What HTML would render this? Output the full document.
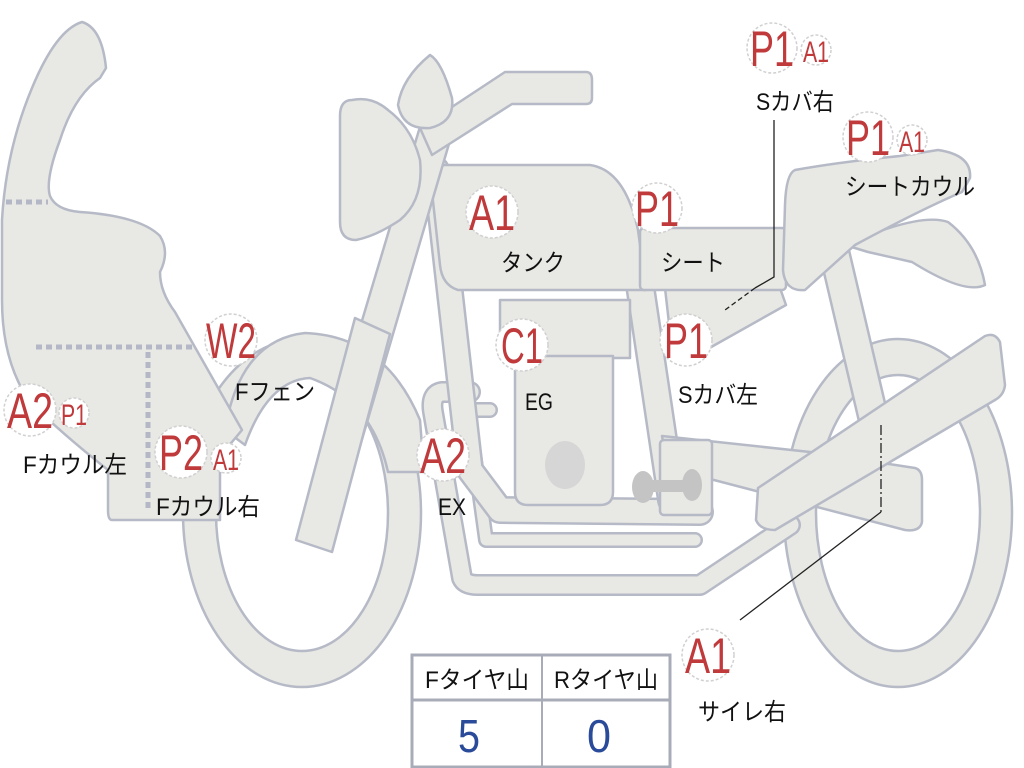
<!DOCTYPE html>
<html><head><meta charset="utf-8"><style>
html,body{margin:0;padding:0;background:#fff;}
svg{display:block;}
.f{fill:#e8e8e4;stroke:#b6bac6;stroke-width:2.5;stroke-linejoin:round;}
.t{font-family:"Liberation Sans","Noto Sans CJK JP",sans-serif;}
.lbl{font-family:"Liberation Sans","Noto Sans CJK JP",sans-serif;font-size:24px;fill:#111;}
.r{fill:#c0393b;font-family:"Liberation Sans",sans-serif;}
.c{fill:#fff;stroke:#d0d0d0;stroke-width:1.5;stroke-dasharray:3 2;}
</style></head><body>
<svg width="1024" height="768" viewBox="0 0 1024 768" xmlns="http://www.w3.org/2000/svg">
<!-- wheels -->
<ellipse cx="302" cy="513" rx="119" ry="174" class="f"/>
<ellipse cx="302" cy="513" rx="86" ry="138" fill="#fff" stroke="#b6bac6" stroke-width="2.5"/>
<ellipse cx="898" cy="513" rx="114" ry="174" class="f"/>
<ellipse cx="898" cy="513" rx="82" ry="138" fill="#fff" stroke="#b6bac6" stroke-width="2.5"/>

<!-- exhaust / frame loops -->
<g fill="none" stroke-linejoin="round" stroke-linecap="round">
<path d="M470,392 L442,392 Q430,394 433,412 L462,578 Q465,585 478,585 L700,585 L790,525" stroke="#b6bac6" stroke-width="22"/>
<path d="M470,392 L442,392 Q430,394 433,412 L462,578 Q465,585 478,585 L700,585 L790,525" stroke="#e8e8e4" stroke-width="17"/>
<path d="M490,410 L468,410 L486,540 L695,540" stroke="#b6bac6" stroke-width="16"/>
<path d="M490,410 L468,410 L486,540 L695,540" stroke="#e8e8e4" stroke-width="11"/>
<path d="M436,170 L470,470 L500,510 L700,512" stroke="#b6bac6" stroke-width="28"/>
<path d="M436,170 L470,470 L500,510 L700,512" stroke="#e8e8e4" stroke-width="23"/>
<path d="M640,285 L672,500" stroke="#b6bac6" stroke-width="30"/>
<path d="M640,285 L672,500" stroke="#e8e8e4" stroke-width="25"/>
<path d="M835,255 L875,425" stroke="#b6bac6" stroke-width="32"/>
<path d="M835,255 L875,425" stroke="#e8e8e4" stroke-width="27"/>
</g>
<!-- swingarm -->
<path class="f" d="M662,436 L810,452 L915,468 Q922,470 922,480 L922,522 Q920,532 905,530 L668,468 Z"/>
<rect x="660" y="440" width="52" height="75" rx="4" class="f"/>
<!-- engine -->
<rect x="500" y="300" width="130" height="58" class="f"/>
<path class="f" d="M515,356 L613,356 L613,492 Q613,505 600,505 L528,505 Q515,505 515,492 Z"/>
<ellipse cx="565" cy="465" rx="20" ry="24" fill="#d6d6d6"/>
<g fill="#c4c4c4"><rect x="640" y="480" width="52" height="12" rx="5"/><ellipse cx="643" cy="487" rx="11" ry="16"/><ellipse cx="692" cy="485" rx="10" ry="16"/></g>
<!-- silencer -->
<path class="f" d="M758,488 L985,336 Q995,332 1000,342 L1005,385 Q1004,395 995,400 L775,530 Q760,530 756,520 Z"/>
<!-- S cover left -->
<path class="f" d="M665,288 L780,288 L786,305 L697,355 L672,350 Z"/>
<!-- tank -->
<path class="f" d="M445,165 L590,165 Q625,170 638,230 L646,290 L458,290 Q442,285 440,265 L432,192 Q433,165 445,165 Z"/>
<!-- seat -->
<rect x="640" y="228" width="146" height="62" rx="4" class="f"/>
<!-- tail fin -->
<path class="f" d="M845,245 Q920,212 948,222 Q978,245 985,285 Q965,295 912,262 L868,252 Z"/>
<!-- seat cowl -->
<path class="f" d="M795,170 Q840,162 900,156 L938,150 Q972,155 970,178 L962,192 Q920,210 855,245 L805,290 Q785,292 783,270 L785,205 Q786,174 795,170 Z"/>
<!-- fender -->
<path class="f" d="M225,430 Q240,340 305,333 Q385,336 420,420 L424,472 L388,472 Q372,400 310,378 Q268,380 245,445 Z"/>
<!-- fork -->
<path class="f" d="M297,538 L425,110 L456,120 L330,548 Z"/>
<path class="f" d="M296,540 L355,318 L390,334 L332,552 Z"/>
<!-- handlebar -->
<path class="f" d="M420,128 L505,72 L586,72 Q592,72 592,80 L592,98 Q592,104 586,104 L512,104 L432,155 Z"/>
<!-- headlight -->
<path class="f" d="M352,100 Q372,96 388,110 Q412,128 420,160 Q424,200 400,220 Q376,236 356,240 Q340,240 340,222 L340,116 Q340,100 352,100 Z"/>
<path class="f" d="M430,55 Q442,62 452,98 Q455,122 430,128 Q403,130 398,105 Q402,78 430,55 Z"/>
<!-- front cowl -->
<path class="f" d="M82,22 Q102,28 106,68 L100,78 Q74,96 60,140 Q45,180 50,196 Q56,210 80,212 Q140,216 160,236 Q170,252 160,272 Q160,292 175,312 L242,430 L232,442 Q222,452 220,462 L220,520 L112,520 Q108,520 108,510 L108,470 Q60,432 30,402 Q2,362 2,300 L2,220 Q6,150 32,88 Q56,30 82,22 Z"/>
<g stroke="#b4b8c6" stroke-width="5" stroke-dasharray="6 4" fill="none">
<path d="M6,202 L48,202"/><path d="M36,347 L194,347"/><path d="M148,352 L148,512"/>
</g>

<!-- leader lines -->
<g stroke="#222" stroke-width="1.3" fill="none">
<path d="M774,120 L774,277 L755,288"/>
<path d="M755,288 L725,310" stroke-dasharray="5 3"/>
<path d="M881,425 L881,512" stroke-dasharray="10 3 2 3"/>
<path d="M881,512 L740,620"/>
</g>

<!-- badges -->
<g>
<circle cx="492" cy="212" r="26" class="c"/><text x="492" y="230" class="r" font-size="50" text-anchor="middle" textLength="46" lengthAdjust="spacingAndGlyphs">A1</text>
<circle cx="657" cy="208" r="25" class="c"/><text x="657" y="226" class="r" font-size="50" text-anchor="middle" textLength="44" lengthAdjust="spacingAndGlyphs">P1</text>
<circle cx="772" cy="48" r="25" class="c"/><text x="772" y="66" class="r" font-size="50" text-anchor="middle" textLength="44" lengthAdjust="spacingAndGlyphs">P1</text>
<circle cx="816" cy="50" r="15" class="c"/><text x="816" y="62" class="r" font-size="30" text-anchor="middle" textLength="26" lengthAdjust="spacingAndGlyphs">A1</text>
<circle cx="868" cy="137" r="25" class="c"/><text x="868" y="155" class="r" font-size="50" text-anchor="middle" textLength="44" lengthAdjust="spacingAndGlyphs">P1</text>
<circle cx="912" cy="140" r="15" class="c"/><text x="912" y="152" class="r" font-size="30" text-anchor="middle" textLength="26" lengthAdjust="spacingAndGlyphs">A1</text>
<circle cx="522" cy="345" r="26" class="c"/><text x="522" y="363" class="r" font-size="50" text-anchor="middle" textLength="42" lengthAdjust="spacingAndGlyphs">C1</text>
<circle cx="686" cy="340" r="26" class="c"/><text x="686" y="358" class="r" font-size="50" text-anchor="middle" textLength="44" lengthAdjust="spacingAndGlyphs">P1</text>
<circle cx="231" cy="340" r="26" class="c"/><text x="231" y="358" class="r" font-size="50" text-anchor="middle" textLength="50" lengthAdjust="spacingAndGlyphs">W2</text>
<circle cx="30" cy="410" r="26" class="c"/><text x="30" y="428" class="r" font-size="50" text-anchor="middle" textLength="46" lengthAdjust="spacingAndGlyphs">A2</text>
<circle cx="74" cy="413" r="15" class="c"/><text x="74" y="425" class="r" font-size="30" text-anchor="middle" textLength="26" lengthAdjust="spacingAndGlyphs">P1</text>
<circle cx="181" cy="452" r="26" class="c"/><text x="181" y="470" class="r" font-size="50" text-anchor="middle" textLength="44" lengthAdjust="spacingAndGlyphs">P2</text>
<circle cx="226" cy="458" r="15" class="c"/><text x="226" y="470" class="r" font-size="30" text-anchor="middle" textLength="26" lengthAdjust="spacingAndGlyphs">A1</text>
<circle cx="443" cy="455" r="26" class="c"/><text x="443" y="473" class="r" font-size="50" text-anchor="middle" textLength="46" lengthAdjust="spacingAndGlyphs">A2</text>
<circle cx="708" cy="655" r="26" class="c"/><text x="708" y="673" class="r" font-size="50" text-anchor="middle" textLength="46" lengthAdjust="spacingAndGlyphs">A1</text>
</g>

<!-- labels -->
<g class="lbl" text-anchor="middle">
<text x="533" y="271" textLength="64" lengthAdjust="spacingAndGlyphs">タンク</text>
<text x="693" y="271" textLength="64" lengthAdjust="spacingAndGlyphs">シート</text>
<text x="795" y="110" textLength="78" lengthAdjust="spacingAndGlyphs">Sカバ右</text>
<text x="910" y="195" textLength="130" lengthAdjust="spacingAndGlyphs">シートカウル</text>
<text x="539" y="410" textLength="28" lengthAdjust="spacingAndGlyphs">EG</text>
<text x="718" y="403" textLength="80" lengthAdjust="spacingAndGlyphs">Sカバ左</text>
<text x="275" y="400" textLength="80" lengthAdjust="spacingAndGlyphs">Fフェン</text>
<text x="75" y="473" textLength="104" lengthAdjust="spacingAndGlyphs">Fカウル左</text>
<text x="208" y="515" textLength="104" lengthAdjust="spacingAndGlyphs">Fカウル右</text>
<text x="452" y="515" textLength="28" lengthAdjust="spacingAndGlyphs">EX</text>
<text x="742" y="720" textLength="88" lengthAdjust="spacingAndGlyphs">サイレ右</text>
</g>

<!-- table -->
<rect x="412" y="655" width="258" height="112" fill="#fff" stroke="#a8acb8" stroke-width="3"/>
<line x1="412" y1="700" x2="670" y2="700" stroke="#a8acb8" stroke-width="3"/>
<line x1="542" y1="655" x2="542" y2="767" stroke="#a8acb8" stroke-width="2"/>
<g class="lbl" text-anchor="middle">
<text x="477" y="688" textLength="104" lengthAdjust="spacingAndGlyphs">Fタイヤ山</text>
<text x="606" y="688" textLength="104" lengthAdjust="spacingAndGlyphs">Rタイヤ山</text>
</g>
<text x="469" y="752" class="t" font-size="46" fill="#2a4a9a" text-anchor="middle" textLength="22" lengthAdjust="spacingAndGlyphs">5</text>
<text x="599" y="752" class="t" font-size="46" fill="#2a4a9a" text-anchor="middle" textLength="24" lengthAdjust="spacingAndGlyphs">0</text>
</svg>
</body></html>
